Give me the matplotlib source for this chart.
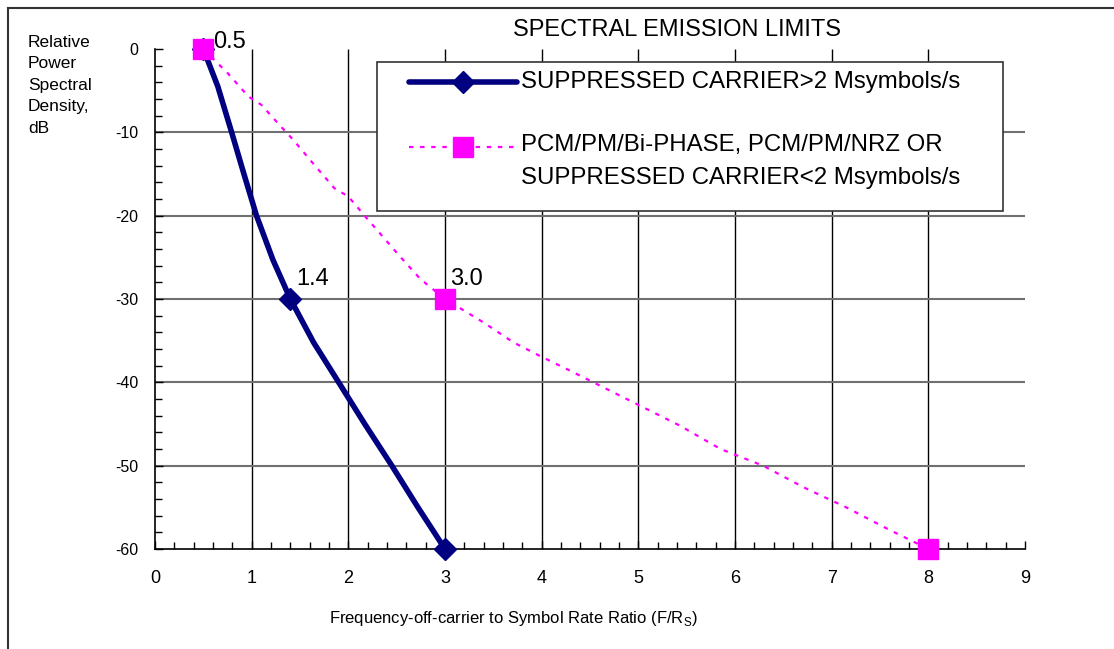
import matplotlib
matplotlib.use("Agg")
import matplotlib.pyplot as plt
from matplotlib.lines import Line2D
from matplotlib.patches import Rectangle
from matplotlib.ticker import MultipleLocator

# key points (markers) and traced curve of each mask
fast_x = [0.5, 1.4, 3.0]
fast_y = [0, -30, -60]
fast_curve_x = [0.5, 0.65, 0.793, 0.92, 1.05, 1.22, 1.4, 1.64, 1.9, 2.17, 2.45, 2.72, 3.0]
fast_curve_y = [0, -4.5, -10, -15, -20, -25.3, -30, -35.2, -40, -45, -50, -55, -60]

slow_x = [0.5, 3.0, 8.0]
slow_y = [0, -30, -60]
slow_curve_x = [0.5, 0.752, 0.966, 1.10, 1.31, 1.43, 1.64, 1.855, 2.0, 2.19, 2.40, 2.527, 2.745, 3.0,
                3.41, 3.707, 3.976, 4.276, 4.569, 5.0, 5.43, 5.85, 6.29, 6.71, 7.15, 7.58, 8.0]
slow_curve_y = [0, -2.9, -5.7, -6.7, -9.4, -10.9, -13.8, -16.7, -17.7, -20.3, -23.1, -24.8, -27.6, -30,
                -32.9, -35.2, -36.8, -38.5, -40.2, -42.7, -45.2, -48.0, -50, -52.6, -55.0, -57.6, -60]

point_labels = ["0.5", "1.4", "3.0"]
label_x = [0.5, 1.4, 3.0]
label_y = [0, -30, -30]
label_offsets = [(7, 1), (4, 10), (4, 10)]  # points, to the text baseline

fast_name = "SUPPRESSED CARRIER>2 Msymbols/s"
slow_name = ["PCM/PM/Bi-PHASE, PCM/PM/NRZ OR", "SUPPRESSED CARRIER<2 Msymbols/s"]

NAVY = "#000080"
MAG = "#FF00FF"
plt.rcParams["font.family"] = ["Liberation Sans", "DejaVu Sans"]
plt.rcParams["axes.unicode_minus"] = False

fig = plt.figure(figsize=(11.14, 6.49), dpi=100)
ax = fig.add_axes([155 / 1114, 1 - 549 / 649, 870 / 1114, 500 / 649])

ax.set_xlim(0, 9)
ax.set_ylim(-60, 0)
for s in ["top", "right"]:
    ax.spines[s].set_visible(False)
ax.spines["left"].set_linewidth(1.2)
ax.spines["bottom"].set_linewidth(1.2)

ax.xaxis.set_major_locator(MultipleLocator(1))
ax.xaxis.set_minor_locator(MultipleLocator(0.2))
ax.yaxis.set_major_locator(MultipleLocator(10))
ax.yaxis.set_minor_locator(MultipleLocator(2))
ax.tick_params(which="both", direction="in", width=1)
ax.tick_params(which="major", length=6)
ax.tick_params(which="minor", length=5)
ax.tick_params(axis="x", pad=15, labelsize=13)
ax.tick_params(axis="y", pad=12, labelsize=11.5)

# grid: vertical black, horizontal gray (none on the plot edges)
ax.vlines(range(1, 9), -60, 0, color="black", lw=1, zorder=1)
ax.hlines(range(-50, 0, 10), 0, 9, color="#707070", lw=1.5, zorder=1)

ax.plot(fast_curve_x, fast_curve_y, color=NAVY, lw=4, zorder=3,
        solid_capstyle="round", solid_joinstyle="round")
ax.plot(fast_x, fast_y, ls="none", marker="D", ms=11, color=NAVY, zorder=4, clip_on=False)
ax.plot(slow_curve_x, slow_curve_y, color=MAG, lw=1.6, ls=(0, (2, 3)), zorder=3)
ax.plot(slow_x, slow_y, ls="none", marker="s", ms=14, color=MAG, zorder=5, clip_on=False)

for t, x, y, off in zip(point_labels, label_x, label_y, label_offsets):
    ax.annotate(t, (x, y), xytext=off, textcoords="offset points",
                fontsize=17, ha="left", va="baseline", zorder=6)

# legend box, drawn in axes fractions
def px(x, y):
    return (x - 155) / 870, (549 - y) / 500

x0, y0 = px(377, 211)
x1, y1 = px(1003, 62)
ax.add_patch(Rectangle((x0, y0), x1 - x0, y1 - y0, transform=ax.transAxes,
                       facecolor="white", edgecolor="#333333", lw=1.2, zorder=10))
hx0, hy1 = px(409, 82)
hx1, hy2 = px(517, 147)
hxm = (hx0 + hx1) / 2
ax.add_line(Line2D([hx0, hx1], [hy1, hy1], transform=ax.transAxes, color=NAVY,
                   lw=4, solid_capstyle="round", zorder=11))
ax.add_line(Line2D([hxm], [hy1], transform=ax.transAxes, color=NAVY, marker="D",
                   ms=11, ls="none", zorder=12))
ax.add_line(Line2D([hx0, hx1], [hy2, hy2], transform=ax.transAxes, color=MAG,
                   lw=1.6, ls=(0, (2, 3)), zorder=11))
ax.add_line(Line2D([hxm], [hy2], transform=ax.transAxes, color=MAG, marker="s",
                   ms=14, ls="none", zorder=12))
tx, ty1 = px(521, 82)
_, ty2 = px(521, 145)
_, ty3 = px(521, 178)
ax.text(tx, ty1, fast_name, transform=ax.transAxes, fontsize=17.3, va="center", zorder=12)
ax.text(tx, ty2, slow_name[0], transform=ax.transAxes, fontsize=17.3, va="center", zorder=12)
ax.text(tx, ty3, slow_name[1], transform=ax.transAxes, fontsize=17.3, va="center", zorder=12)

fig.text(677 / 1114, 1 - 30 / 649, "SPECTRAL EMISSION LIMITS", fontsize=17,
         ha="center", va="center")
fig.text(28 / 1114, 1 - 35 / 649, "Relative\nPower\nSpectral\nDensity,\ndB",
         fontsize=12.5, ha="left", va="top", linespacing=1.54)
fig.text(513 / 1114, 1 - 618 / 649,
         "Frequency-off-carrier to Symbol Rate Ratio (F/R$_\\mathregular{S}$)",
         fontsize=12, ha="center", va="center")

# page frame (top and left edges visible)
fig.add_artist(Line2D([8 / 1114, 1], [1 - 8 / 649] * 2, color="#333333", lw=1.5))
fig.add_artist(Line2D([8 / 1114] * 2, [0, 1 - 8 / 649], color="#333333", lw=1.5))

fig.savefig("out.png", dpi=100)
